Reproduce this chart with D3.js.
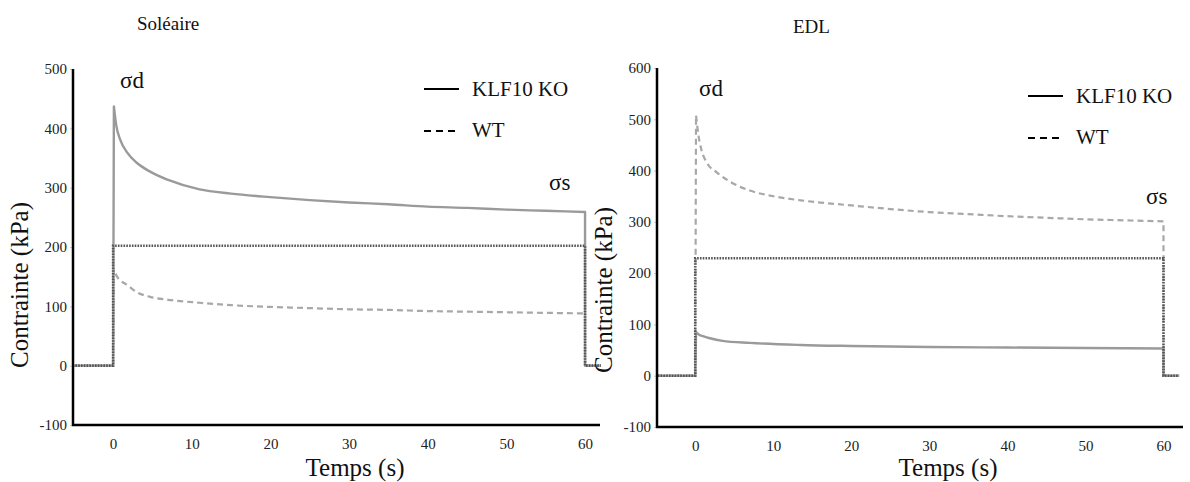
<!DOCTYPE html>
<html><head><meta charset="utf-8">
<script src="https://cdn.jsdelivr.net/npm/d3@7"></script>
<style>
@font-face { font-family: "ChartSerif"; src: local("Liberation Serif"), local("LiberationSerif"), local("LiberationSerif-Regular"), local("Times New Roman"); }
html, body { margin: 0; background: #fff; font-family: "Liberation Serif", "ChartSerif", serif; }
svg text { font-family: "Liberation Serif", "ChartSerif", serif; }
</style>
</head><body>
<svg id="c" width="1190" height="482"></svg>
<script>
// ---- Data ----
const xTicks = [0, 10, 20, 30, 40, 50, 60];
const solYTicks = [-100, 0, 100, 200, 300, 400, 500];
const edlYTicks = [-100, 0, 100, 200, 300, 400, 500, 600];

// Soléaire
const solKoT  = [-5, 0, 0.1, 0.4, 0.9, 1.8, 3, 4.7, 7, 11, 15, 20, 25, 30, 35, 40, 45, 50, 55, 60, 60, 62];
const solKoV  = [0, 0, 437, 405, 381, 359, 342, 327, 313, 297, 290, 284, 279, 275, 272, 268, 266, 263, 261, 259, 0, 0];
const solWtT  = [-5, 0, 0.1, 0.5, 1, 1.8, 3, 4.7, 7, 11, 15, 20, 25, 30, 35, 40, 45, 50, 55, 60, 60, 62];
const solWtV  = [0, 0, 162, 150, 143, 136, 124, 116, 111, 106, 102, 99, 97, 95, 94, 92, 91, 90, 89, 88, 0, 0];
const solStrT = [-4.8, 0, 0, 60, 60, 62];
const solStrV = [0, 0, 202, 202, 0, 0];

// EDL
const edlKoT  = [-5, 0, 0.1, 0.5, 1, 1.9, 3.5, 7, 13.5, 20, 30, 40, 50, 60, 60, 62];
const edlKoV  = [0, 0, 85, 80, 77, 73, 68, 64, 60, 58, 56, 55, 54, 53, 0, 0];
const edlWtT  = [-5, 0, 0.1, 0.4, 0.8, 1.5, 2.8, 4.5, 7, 10, 13.5, 20, 25, 30, 35, 40, 45, 50, 55, 60, 60, 62];
const edlWtV  = [0, 0, 508, 470, 440, 415, 396, 378, 361, 350, 342, 332, 325, 319, 315, 311, 308, 305, 303, 301, 0, 0];
const edlStrT = [-4.8, 0, 0, 60, 60, 62];
const edlStrV = [0, 0, 229, 229, 0, 0];

const FONT = '"Liberation Serif", "ChartSerif", serif';
const svg = d3.select("#c");

function setFont(sel, size) {
  return sel.style("font-family", FONT).style("font-size", size + "px");
}

function panel(cfg) {
  const x = d3.scaleLinear().domain(cfg.xDom).range(cfg.xRange);
  const y = d3.scaleLinear().domain(cfg.yDom).range(cfg.yRange);
  const zip = (t, v) => t.map((d, i) => [d, v[i]]);
  const lin = d3.line().x(d => x(d[0])).y(d => y(d[1]));
  const smooth = d3.line().x(d => x(d[0])).y(d => y(d[1])).curve(d3.curveMonotoneX);

  function trace(t, v, style) {
    const pts = zip(t, v);
    const n = pts.length;
    const head = pts.slice(0, 3);
    const body = pts.slice(2, n - 2);
    const tail = pts.slice(n - 3);
    const d = lin(head) + smooth(body).replace(/^M/, "L") + lin(tail).replace(/^M/, "L");
    style(svg.append("path").attr("d", d).attr("fill", "none").attr("stroke-linejoin", "round"));
  }

  trace(cfg.koT, cfg.koV, p => p.attr("stroke", "#9a9a9a").attr("stroke-width", 2.4));
  trace(cfg.wtT, cfg.wtV, p => p.attr("stroke", "#a8a8a8").attr("stroke-width", 2.2).attr("stroke-dasharray", "6,4"));
  svg.append("path").datum(zip(cfg.stT, cfg.stV)).attr("d", lin)
    .attr("fill", "none").attr("stroke", "#555").attr("stroke-width", 2.6).attr("stroke-dasharray", "1.6,1.2");

  // y axis labels (positions from the scale)
  const ya = svg.append("g").attr("transform", `translate(${cfg.xRange[0]},0)`)
    .call(d3.axisLeft(y).tickValues(cfg.yTicks).tickSize(3).tickPadding(3).tickFormat(d => String(d)));
  ya.attr("font-family", null).attr("font-size", null);
  ya.select(".domain").remove();
  ya.selectAll(".tick line").attr("stroke", "#ccc");
  setFont(ya.selectAll("text"), 15).attr("fill", "#222");

  const xa = svg.append("g").attr("transform", `translate(0,${cfg.yRange[0]})`)
    .call(d3.axisBottom(x).tickValues(xTicks).tickSize(0).tickPadding(13));
  xa.attr("font-family", null).attr("font-size", null);
  xa.select(".domain").remove();
  setFont(xa.selectAll("text"), 15).attr("fill", "#222");

  svg.append("path")
    .attr("d", `M${cfg.xRange[0]},${cfg.yRange[1]}V${cfg.yRange[0]}H${cfg.xRange[1]}`)
    .attr("fill", "none").attr("stroke", "#000").attr("stroke-width", 2.5);

  const txt = (x0, y0, size, s) => setFont(svg.append("text").attr("x", x0).attr("y", y0), size)
    .attr("fill", "#111").text(s);

  txt(cfg.titleX, cfg.titleY, 19, cfg.title);
  setFont(svg.append("text").attr("transform", `translate(${cfg.yLabX},${cfg.yLabY}) rotate(-90)`)
    .attr("text-anchor", "middle"), 25).attr("fill", "#111").text("Contrainte (kPa)");
  txt(cfg.xLabX, 476, 25, "Temps (s)").attr("text-anchor", "middle");

  txt(cfg.sdX, cfg.sdY, 23, "σd");
  txt(cfg.ssX, cfg.ssY, 23, "σs");

  svg.append("line").attr("x1", cfg.legX).attr("x2", cfg.legX + 35).attr("y1", cfg.legY).attr("y2", cfg.legY)
    .attr("stroke", "#000").attr("stroke-width", 2);
  txt(cfg.legX + 48, cfg.legY + 7, 21, "KLF10 KO");
  svg.append("line").attr("x1", cfg.legX).attr("x2", cfg.legX + 35).attr("y1", cfg.legY + 42).attr("y2", cfg.legY + 42)
    .attr("stroke", "#000").attr("stroke-width", 2).attr("stroke-dasharray", "7,5");
  txt(cfg.legX + 48, cfg.legY + 48, 21, "WT");
}

panel({
  xDom: [-5.1, 61.9], xRange: [73, 600],
  yDom: [-100, 500], yRange: [425, 69], yTicks: solYTicks,
  koT: solKoT, koV: solKoV, wtT: solWtT, wtV: solWtV, stT: solStrT, stV: solStrV,
  title: "Soléaire", titleX: 137, titleY: 30,
  yLabX: 28, yLabY: 285, xLabX: 355,
  sdX: 120, sdY: 88, ssX: 549, ssY: 190,
  legX: 424, legY: 89
});
panel({
  xDom: [-4.9, 62.5], xRange: [657, 1183],
  yDom: [-100, 600], yRange: [427, 68], yTicks: edlYTicks,
  koT: edlKoT, koV: edlKoV, wtT: edlWtT, wtV: edlWtV, stT: edlStrT, stV: edlStrV,
  title: "EDL", titleX: 793, titleY: 33,
  yLabX: 612, yLabY: 290, xLabX: 948,
  sdX: 699, sdY: 96, ssX: 1146, ssY: 204,
  legX: 1028, legY: 96
});
</script>
</body></html>
